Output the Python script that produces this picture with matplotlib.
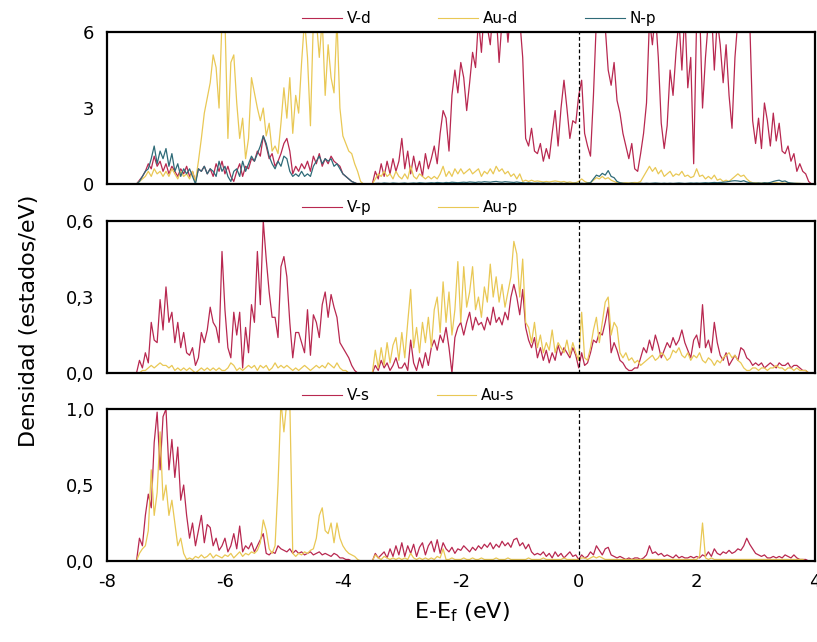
import matplotlib
matplotlib.use("Agg")
import matplotlib.pyplot as plt
import numpy as np

# energy grid, E - Ef in eV, 0.05 eV steps from -8 to 4
energy = np.linspace(-8.0, 4.0, 241)

# panel 1: d / p states (estados/eV)
V_d = [
    0, 0, 0, 0, 0, 0, 0, 0, 0, 0,
    0.0, 0.15, 0.3, 0.5, 0.8, 0.6, 1.1, 0.7, 0.9, 0.5,
    0.8, 0.4, 0.7, 0.5, 0.3, 0.6, 0.4, 0.7, 0.3, 0.5,
    0.1, 0.6, 0.5, 0.7, 0.4, 0.6, 0.3, 0.8, 0.5, 0.9,
    0.4, 0.7, 0.3, 0.1, 0.5, 0.8, 0.3, 0.7, 0.6, 1.0,
    0.9, 1.3, 1.1, 1.9, 1.5, 1.0, 1.2, 0.7, 0.9, 1.2,
    1.6, 1.8, 1.3, 0.4, 0.7, 0.5, 0.8, 0.6, 0.9, 0.5,
    1.1, 0.8, 1.2, 0.7, 1.0, 0.8, 1.1, 0.9, 0.8, 0.7,
    0.4, 0.3, 0.2, 0.1, 0.05, 0.0, 0.0, 0.0, 0.0, 0.0,
    0.0, 0.5, 0.2, 0.8, 0.3, 0.9, 0.4, 1.0, 0.5, 0.9,
    1.8, 0.6, 1.3, 0.4, 1.1, 0.5, 0.9, 0.3, 1.2, 0.6,
    1.0, 1.5, 0.8, 2.0, 2.9, 2.6, 1.3, 3.5, 4.5, 3.6,
    4.8, 4.2, 2.9, 4.0, 5.2, 4.6, 6.5, 5.2, 7.0, 6.2,
    5.5, 7.0, 6.8, 4.8, 6.5, 7.0, 5.6, 7.0, 7.0, 6.0,
    6.5, 5.0, 1.8, 1.5, 2.2, 1.3, 1.2, 1.6, 0.9, 1.4,
    1.0, 2.0, 2.9, 1.5, 3.0, 4.1, 3.0, 1.8, 2.5, 2.4,
    3.5, 4.1, 2.0, 1.5, 1.1, 3.5, 6.5, 7.0, 7.0, 6.2,
    4.5, 3.9, 4.8, 3.3, 2.8, 2.0, 1.5, 1.0, 1.6, 0.6,
    0.5, 1.2, 2.0, 3.2, 6.5, 5.5, 6.8, 5.0, 2.4, 1.4,
    2.3, 4.5, 3.5, 5.2, 6.5, 4.5, 6.8, 3.8, 5.0, 0.8,
    6.5, 7.0, 3.0, 5.0, 6.5, 7.0, 4.5, 6.5, 5.5, 4.0,
    5.5, 3.5, 2.2, 5.0, 6.5, 7.0, 6.8, 7.0, 6.5, 2.5,
    1.6, 2.6, 1.4, 3.2, 2.5, 1.5, 2.8, 1.7, 2.4, 1.3,
    1.2, 1.5, 0.9, 1.2, 0.5, 0.8, 0.5, 0.4, 0.1, 0.0,
    0.0]
Au_d = [
    0, 0, 0, 0, 0, 0, 0, 0, 0, 0,
    0.0, 0.1, 0.2, 0.3, 0.5, 0.3, 0.6, 0.4, 0.5, 0.3,
    0.5, 0.3, 0.6, 0.4, 0.2, 0.5, 0.3, 0.4, 0.2, 0.5,
    0.1, 0.9, 1.8, 2.8, 3.4, 4.0, 5.1, 4.6, 3.0, 6.5,
    6.5, 1.8, 4.8, 5.1, 3.2, 1.8, 2.6, 1.0, 1.8, 4.2,
    3.6, 3.0, 2.5, 3.0, 1.9, 2.4, 1.3, 1.5, 1.2, 2.4,
    3.8, 2.6, 4.2, 2.0, 3.5, 2.8, 4.8, 6.5, 5.0, 2.3,
    6.5, 6.5, 5.0, 6.5, 3.5, 5.5, 4.2, 3.6, 6.5, 3.0,
    1.9, 1.6, 1.3, 1.2, 0.8, 0.5, 0.1, 0.0, 0.0, 0.0,
    0.0, 0.2, 0.4, 0.3, 0.5, 0.3, 0.4, 0.2, 0.5, 0.3,
    0.2, 0.4, 0.2, 0.7, 0.3, 0.2, 0.4, 0.3, 0.2, 0.3,
    0.2, 0.3, 0.2, 0.4, 0.7, 0.3, 0.5, 0.3, 0.6, 0.4,
    0.6, 0.4, 0.5, 0.6, 0.4, 0.5, 0.6, 0.3, 0.5, 0.4,
    0.6, 0.4, 0.7, 0.5, 0.6, 0.4, 0.5, 0.3, 0.4, 0.2,
    0.4, 0.1, 0.15, 0.1, 0.15, 0.1, 0.12, 0.1, 0.08, 0.1,
    0.08, 0.1, 0.12, 0.1, 0.08, 0.1, 0.06, 0.08, 0.05, 0.05,
    0.1, 0.2, 0.1, 0.05, 0.05, 0.15, 0.25, 0.2, 0.3, 0.2,
    0.25, 0.15, 0.1, 0.05, 0.05, 0.04, 0.05, 0.04, 0.05, 0.06,
    0.05, 0.1, 0.3, 0.5, 0.7, 0.5, 0.65, 0.4, 0.55, 0.3,
    0.4, 0.5, 0.3, 0.4, 0.35, 0.5, 0.3, 0.35, 0.25, 0.3,
    0.6, 0.3, 0.35, 0.2, 0.3, 0.2, 0.35, 0.15, 0.2, 0.1,
    0.15, 0.1, 0.2, 0.3, 0.4, 0.3, 0.35, 0.2, 0.1, 0.05,
    0.05, 0.04, 0.03, 0.05, 0.04, 0.03, 0.04, 0.05, 0.03, 0.04,
    0.03, 0.04, 0.03, 0.02, 0.03, 0.02, 0.02, 0.01, 0.01, 0.0,
    0.0]
N_p = [
    0, 0, 0, 0, 0, 0, 0, 0, 0, 0,
    0.0, 0.1, 0.3, 0.5, 0.6, 1.0, 1.5, 0.8, 1.3, 1.0,
    1.4, 0.7, 1.2, 0.5, 0.8, 0.3, 0.6, 0.4, 0.6, 0.3,
    0.0, 0.6, 0.5, 0.7, 0.4, 0.6, 0.5, 0.3, 0.9, 0.5,
    0.7, 0.3, 0.1, 0.5, 0.6, 0.3, 0.9, 0.5, 0.8, 1.1,
    0.9, 1.2, 1.5, 1.9, 1.6, 1.1, 0.8, 0.6, 0.9, 0.7,
    1.1, 1.0, 0.5, 0.3, 0.4, 0.3, 0.5, 0.3, 0.4, 0.3,
    0.7, 0.9, 1.1, 0.8, 1.0, 0.9, 1.0, 0.7, 0.8, 0.6,
    0.4, 0.3, 0.2, 0.1, 0.05, 0.0, 0.0, 0.0, 0.0, 0.0,
    0.0, 0.02, 0.03, 0.02, 0.04, 0.03, 0.02, 0.04, 0.03, 0.02,
    0.03, 0.04, 0.02, 0.03, 0.04, 0.03, 0.05, 0.04, 0.03, 0.04,
    0.05, 0.04, 0.06, 0.05, 0.04, 0.06, 0.05, 0.07, 0.06, 0.05,
    0.06, 0.07, 0.06, 0.08, 0.07, 0.06, 0.08, 0.07, 0.09, 0.08,
    0.07, 0.09, 0.1, 0.08, 0.07, 0.09, 0.08, 0.07, 0.06, 0.08,
    0.06, 0.05, 0.04, 0.05, 0.04, 0.03, 0.04, 0.03, 0.04, 0.03,
    0.03, 0.02, 0.03, 0.02, 0.03, 0.02, 0.03, 0.02, 0.02, 0.03,
    0.02, 0.03, 0.02, 0.04, 0.05, 0.2, 0.35, 0.3, 0.42, 0.35,
    0.53, 0.3, 0.25, 0.1, 0.05, 0.03, 0.02, 0.02, 0.03, 0.02,
    0.02, 0.03, 0.02, 0.03, 0.02, 0.03, 0.04, 0.03, 0.02, 0.03,
    0.02, 0.03, 0.02, 0.03, 0.04, 0.03, 0.02, 0.03, 0.04, 0.03,
    0.04, 0.03, 0.04, 0.05, 0.04, 0.05, 0.06, 0.05, 0.06, 0.07,
    0.08, 0.1, 0.12, 0.13, 0.12, 0.1, 0.13, 0.08, 0.05, 0.04,
    0.03, 0.04, 0.03, 0.05, 0.04, 0.06, 0.1, 0.13, 0.15, 0.1,
    0.12, 0.06, 0.04, 0.03, 0.02, 0.02, 0.01, 0.01, 0.0, 0.0,
    0.0]

# panel 2: p states
V_p = [
    0, 0, 0, 0, 0, 0, 0, 0, 0, 0,
    0.0, 0.05, 0.02, 0.08, 0.04, 0.2, 0.13, 0.12, 0.29, 0.17,
    0.34, 0.2, 0.24, 0.12, 0.2, 0.1, 0.16, 0.08, 0.07, 0.1,
    0.03, 0.06, 0.16, 0.12, 0.17, 0.26, 0.2, 0.18, 0.12, 0.48,
    0.25, 0.1, 0.06, 0.24, 0.15, 0.24, 0.02, 0.18, 0.08, 0.27,
    0.2, 0.48, 0.27, 0.6, 0.45, 0.32, 0.22, 0.22, 0.14, 0.42,
    0.46, 0.38, 0.2, 0.06, 0.16, 0.16, 0.12, 0.08, 0.25, 0.07,
    0.23, 0.2, 0.14, 0.27, 0.32, 0.22, 0.31, 0.26, 0.22, 0.12,
    0.1, 0.08, 0.06, 0.03, 0.01, 0.0, 0.0, 0.0, 0.0, 0.0,
    0.0, 0.03, 0.01, 0.05, 0.02, 0.04, 0.01, 0.03, 0.06, 0.02,
    0.02, 0.04, 0.01, 0.13, 0.04, 0.01, 0.06, 0.02, 0.08, 0.03,
    0.1, 0.13, 0.09, 0.15, 0.12, 0.18, 0.1, 0.0, 0.14, 0.18,
    0.2, 0.15, 0.2, 0.24, 0.17, 0.22, 0.19, 0.2, 0.17, 0.22,
    0.19, 0.26, 0.2, 0.22, 0.19, 0.24, 0.21, 0.3, 0.35, 0.3,
    0.23, 0.33, 0.18, 0.13, 0.1, 0.14, 0.06, 0.1, 0.05, 0.09,
    0.04, 0.08, 0.05, 0.11, 0.07, 0.1, 0.08, 0.06, 0.1, 0.07,
    0.02, 0.08, 0.03, 0.04, 0.08, 0.13, 0.12, 0.16, 0.15, 0.2,
    0.26, 0.08, 0.12, 0.09, 0.05, 0.04, 0.02, 0.01, 0.01, 0.02,
    0.02, 0.06, 0.1, 0.08, 0.13, 0.09, 0.15, 0.11, 0.06, 0.09,
    0.12, 0.1, 0.14, 0.11, 0.13, 0.17, 0.12, 0.09, 0.06, 0.13,
    0.15, 0.1, 0.27, 0.1, 0.13, 0.08, 0.2, 0.12, 0.07, 0.05,
    0.08, 0.03, 0.05, 0.07, 0.05, 0.1, 0.09, 0.06, 0.05, 0.03,
    0.04, 0.03, 0.04, 0.02, 0.03, 0.04, 0.03, 0.02, 0.04, 0.03,
    0.03, 0.04, 0.02, 0.03, 0.03, 0.02, 0.01, 0.01, 0.0, 0.0,
    0.0]
Au_p = [
    0, 0, 0, 0, 0, 0, 0, 0, 0, 0,
    0.0, 0.0, 0.01, 0.01, 0.02, 0.03, 0.02, 0.03, 0.04, 0.03,
    0.03, 0.02, 0.03, 0.01, 0.02, 0.01, 0.02, 0.01, 0.02, 0.01,
    0.0, 0.01, 0.02, 0.01, 0.02, 0.01, 0.02, 0.01, 0.02, 0.01,
    0.01, 0.02, 0.04, 0.03, 0.01, 0.02, 0.01, 0.02, 0.03, 0.02,
    0.03, 0.01, 0.03, 0.02, 0.03, 0.01, 0.02, 0.04, 0.02, 0.03,
    0.02, 0.03, 0.02, 0.01, 0.02, 0.01, 0.02, 0.03, 0.02, 0.01,
    0.02, 0.03, 0.02, 0.03, 0.02, 0.04, 0.03, 0.02, 0.04, 0.02,
    0.01, 0.01, 0.0, 0.0, 0.0, 0.0, 0.0, 0.0, 0.0, 0.0,
    0.0, 0.09, 0.02, 0.1, 0.03, 0.12, 0.04, 0.11, 0.14, 0.05,
    0.16, 0.06, 0.2, 0.33, 0.1, 0.18, 0.08, 0.2, 0.12, 0.22,
    0.1, 0.25, 0.3, 0.16, 0.36, 0.2, 0.32, 0.15, 0.25, 0.44,
    0.2, 0.42, 0.26, 0.32, 0.42, 0.25, 0.3, 0.22, 0.34, 0.28,
    0.43, 0.3, 0.38, 0.28, 0.35, 0.26, 0.32, 0.38, 0.52, 0.47,
    0.3, 0.45, 0.2, 0.18, 0.12, 0.2, 0.1, 0.15, 0.08, 0.12,
    0.09, 0.17, 0.08, 0.12, 0.1, 0.08, 0.13, 0.07, 0.12, 0.08,
    0.05, 0.24, 0.06, 0.05, 0.1, 0.17, 0.22, 0.12, 0.2, 0.28,
    0.3, 0.15, 0.2, 0.18, 0.08, 0.06, 0.08, 0.05, 0.06, 0.04,
    0.05, 0.03, 0.04, 0.05, 0.06, 0.07, 0.05, 0.06, 0.08, 0.07,
    0.05, 0.06, 0.09, 0.08, 0.1, 0.07, 0.06, 0.08, 0.05, 0.07,
    0.06, 0.08, 0.05, 0.04, 0.06, 0.05, 0.03, 0.05, 0.04, 0.06,
    0.07, 0.08, 0.06, 0.07, 0.05, 0.04, 0.02, 0.01, 0.01, 0.02,
    0.02, 0.01, 0.02, 0.02, 0.01, 0.02, 0.02, 0.03, 0.02, 0.02,
    0.01, 0.02, 0.02, 0.01, 0.02, 0.01, 0.01, 0.01, 0.0, 0.0,
    0.0]

# panel 3: s states
V_s = [
    0, 0, 0, 0, 0, 0, 0, 0, 0, 0,
    0.0, 0.15, 0.1, 0.3, 0.44, 0.35, 0.78, 0.98, 0.6, 0.95,
    1.0, 0.6, 0.8, 0.55, 0.75, 0.4, 0.5, 0.3, 0.15, 0.25,
    0.1, 0.2, 0.3, 0.12, 0.24, 0.22, 0.1, 0.15, 0.07, 0.1,
    0.15, 0.06, 0.1, 0.18, 0.08, 0.23, 0.06, 0.1, 0.08, 0.12,
    0.06, 0.1, 0.14, 0.18, 0.05, 0.04, 0.06, 0.05, 0.1, 0.08,
    0.07, 0.06, 0.08, 0.05, 0.07, 0.05, 0.06, 0.04, 0.05, 0.06,
    0.04, 0.05, 0.06, 0.04, 0.05, 0.04, 0.03, 0.05, 0.04, 0.02,
    0.02, 0.01, 0.01, 0.0, 0.0, 0.0, 0.0, 0.0, 0.0, 0.0,
    0.0, 0.05, 0.02, 0.04, 0.06, 0.02, 0.08, 0.03, 0.1, 0.04,
    0.12, 0.03, 0.1, 0.05, 0.11, 0.03, 0.09, 0.12, 0.04, 0.1,
    0.13, 0.06, 0.14, 0.05, 0.12, 0.08, 0.06, 0.09, 0.05, 0.08,
    0.07, 0.1, 0.08, 0.06, 0.09, 0.07, 0.1, 0.08, 0.11, 0.09,
    0.12, 0.08, 0.11, 0.09, 0.13, 0.1, 0.12, 0.09, 0.14, 0.15,
    0.1, 0.12, 0.08, 0.11, 0.06, 0.04, 0.05, 0.04, 0.06, 0.03,
    0.05, 0.02, 0.06, 0.03, 0.05, 0.02, 0.04, 0.06, 0.03, 0.04,
    0.01, 0.04, 0.02, 0.03, 0.06, 0.04, 0.1, 0.07, 0.04, 0.08,
    0.09, 0.04, 0.03, 0.02, 0.03, 0.02, 0.01, 0.02, 0.01, 0.02,
    0.02, 0.01, 0.02, 0.04, 0.1, 0.05, 0.06, 0.04, 0.05, 0.03,
    0.04, 0.03, 0.02, 0.04, 0.02, 0.03, 0.02, 0.02, 0.03, 0.02,
    0.03, 0.02, 0.04, 0.03, 0.06, 0.03, 0.08, 0.05, 0.04, 0.06,
    0.05, 0.07, 0.05, 0.06, 0.08, 0.07, 0.1, 0.15, 0.11, 0.08,
    0.05, 0.04, 0.03, 0.04, 0.02, 0.02, 0.03, 0.02, 0.03, 0.02,
    0.04, 0.03, 0.02, 0.04, 0.02, 0.01, 0.01, 0.01, 0.0, 0.0,
    0.0]
Au_s = [
    0, 0, 0, 0, 0, 0, 0, 0, 0, 0,
    0.0, 0.05, 0.08, 0.1, 0.2, 0.6, 0.3, 0.45, 0.85, 0.4,
    0.5, 0.3, 0.4, 0.25, 0.1, 0.15, 0.05, 0.01, 0.02, 0.01,
    0.03, 0.02, 0.04, 0.02, 0.03, 0.05, 0.02, 0.04, 0.03, 0.02,
    0.04, 0.03, 0.05, 0.02, 0.04, 0.06, 0.03, 0.05, 0.04, 0.06,
    0.05, 0.07, 0.12, 0.27, 0.2, 0.08, 0.05, 0.1, 0.5, 1.05,
    0.85, 1.05, 1.05, 0.05, 0.03, 0.05, 0.04, 0.06, 0.05, 0.07,
    0.08, 0.15, 0.3, 0.35, 0.2, 0.18, 0.25, 0.12, 0.25, 0.15,
    0.1, 0.07, 0.05, 0.04, 0.03, 0.01, 0.0, 0.0, 0.0, 0.0,
    0.0, 0.04, 0.02, 0.01, 0.03, 0.02, 0.01, 0.02, 0.01, 0.02,
    0.01, 0.02, 0.01, 0.05, 0.02, 0.01, 0.02, 0.01, 0.02, 0.01,
    0.02, 0.01, 0.03, 0.02, 0.08, 0.01, 0.01, 0.02, 0.01, 0.01,
    0.01, 0.02, 0.01, 0.01, 0.02, 0.01, 0.01, 0.02, 0.01, 0.01,
    0.01, 0.01, 0.02, 0.01, 0.01, 0.01, 0.02, 0.01, 0.01, 0.01,
    0.01, 0.01, 0.01, 0.02, 0.01, 0.01, 0.01, 0.01, 0.02, 0.01,
    0.01, 0.01, 0.01, 0.01, 0.01, 0.02, 0.01, 0.01, 0.01, 0.01,
    0.01, 0.02, 0.02, 0.01, 0.02, 0.03, 0.02, 0.03, 0.02, 0.01,
    0.01, 0.01, 0.01, 0.01, 0.01, 0.01, 0.01, 0.01, 0.01, 0.01,
    0.01, 0.01, 0.01, 0.01, 0.01, 0.01, 0.01, 0.01, 0.01, 0.01,
    0.01, 0.01, 0.01, 0.01, 0.01, 0.01, 0.01, 0.01, 0.01, 0.01,
    0.01, 0.03, 0.25, 0.02, 0.01, 0.02, 0.01, 0.01, 0.01, 0.01,
    0.01, 0.01, 0.01, 0.01, 0.01, 0.01, 0.01, 0.01, 0.01, 0.01,
    0.01, 0.01, 0.01, 0.01, 0.01, 0.01, 0.01, 0.01, 0.01, 0.01,
    0.01, 0.01, 0.01, 0.01, 0.01, 0.01, 0.01, 0.0, 0.0, 0.0,
    0.0]

xticks = [-8, -6, -4, -2, 0, 2, 4]
panel_ticks = [([0, 3, 6], ['0', '3', '6']),
               ([0, 0.3, 0.6], ['0,0', '0,3', '0,6']),
               ([0, 0.5, 1.0], ['0,0', '0,5', '1,0'])]

RED = '#b82850'
YELLOW = '#e9c855'
TEAL = '#2f6b78'

plt.rcParams['font.family'] = 'DejaVu Sans'

fig = plt.figure(figsize=(8.17, 6.42), dpi=100)
left, width = 0.131, 0.866
boxes = [0.7134, 0.419, 0.1262]
height = 0.2366

panels = [
    [(V_d, RED, 'V-d'), (Au_d, YELLOW, 'Au-d'), (N_p, TEAL, 'N-p')],
    [(V_p, RED, 'V-p'), (Au_p, YELLOW, 'Au-p')],
    [(V_s, RED, 'V-s'), (Au_s, YELLOW, 'Au-s')],
]

for k, series in enumerate(panels):
    ax = fig.add_axes([left, boxes[k], width, height])
    for vals, col, lab in series:
        ax.plot(energy, vals, color=col, lw=0.9, label=lab)
    ticks, labels = panel_ticks[k]
    ax.set_ylim(ticks[0], ticks[-1])
    ax.set_xlim(-8, 4)
    ax.set_yticks(ticks)
    ax.set_yticklabels(labels)
    ax.set_xticks(xticks)
    if k == 2:
        ax.set_xticklabels([str(t) for t in xticks])
    else:
        ax.set_xticklabels([])
    ax.axvline(0, color='black', ls=(0, (3, 2)), lw=0.9)
    ax.tick_params(length=0, labelsize=13, pad=9)
    for sp in ax.spines.values():
        sp.set_linewidth(1.6)
    leg = ax.legend(loc='lower left', bbox_to_anchor=(0.265, 0.99), ncol=3,
                    frameon=False, fontsize=11, handlelength=2.6,
                    columnspacing=4.4, handletextpad=0.3, borderaxespad=0.1)
    for h in leg.get_lines():
        h.set_linewidth(0.8)

fig.text(0.035, 0.5, 'Densidad (estados/eV)', rotation=90,
         ha='center', va='center', fontsize=16)
fig.text(0.565, 0.047, r'E-E$_\mathregular{f}$ (eV)',
         ha='center', va='center', fontsize=16)

fig.savefig('out.png', dpi=100)
